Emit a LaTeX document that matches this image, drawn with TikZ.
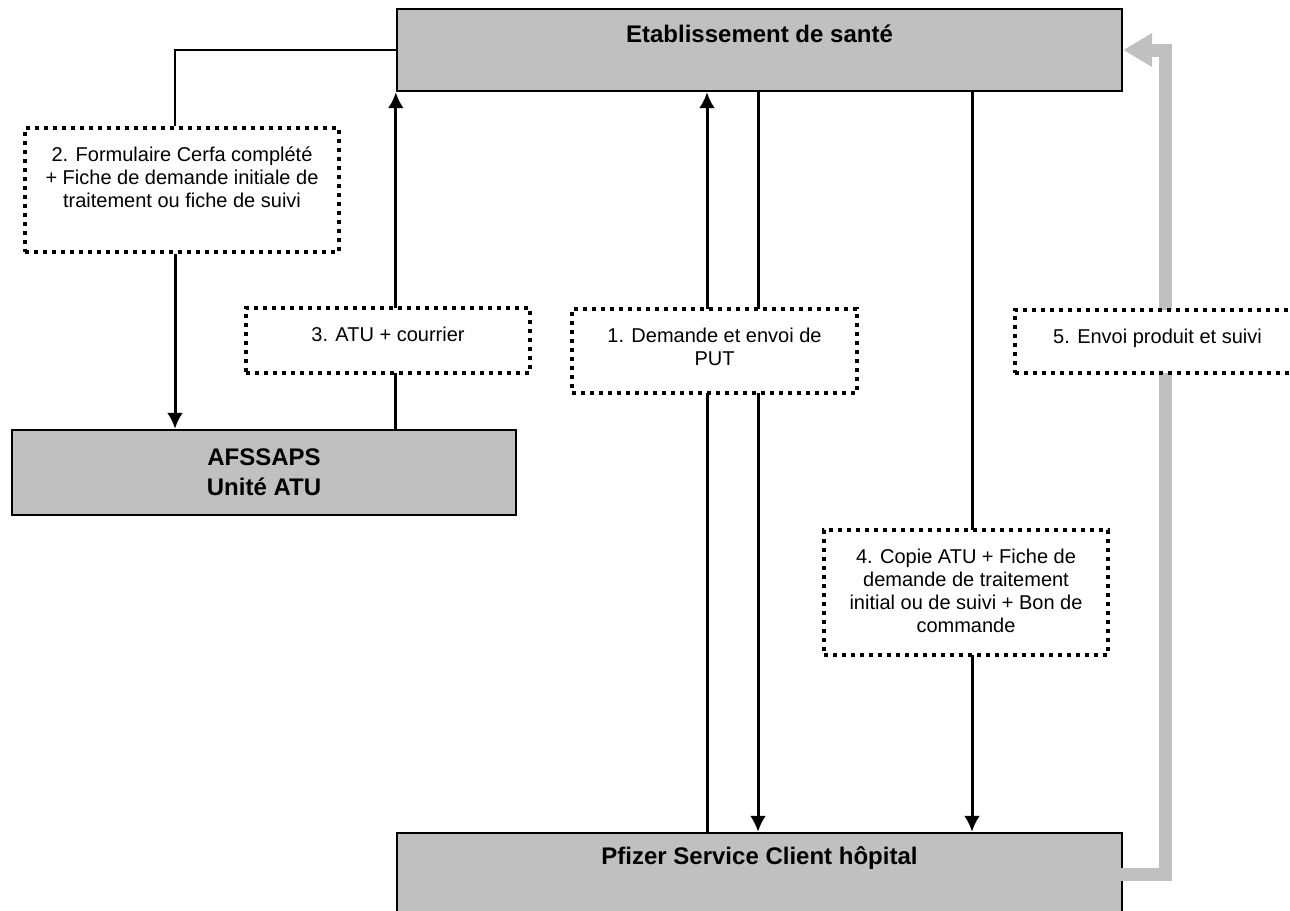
\documentclass[tikz,border=0pt]{standalone}
\usepackage{fontspec}
\setmainfont{Liberation Sans}
\usetikzlibrary{arrows.meta}

\definecolor{boxgray}{RGB}{192,192,192}

\newcommand{\boxfont}{\bfseries\fontsize{12}{15}\selectfont}
\newcommand{\notefont}{\fontsize{10}{11.5}\selectfont}

\pgfdeclarelayer{boxes}
\pgfdeclarelayer{lines}
\pgfsetlayers{boxes,lines,main}

\begin{document}
\begin{tikzpicture}[x=0.5pt, y=-0.5pt]
    \clip (0, 0) rectangle (1290, 910); % bounding box

    % organisations
    \begin{pgfonlayer}{boxes}
    \begin{scope}[every node/.style={draw, line width=1.2pt, fill=boxgray, inner sep=0pt, align=center, font=\boxfont}]
        \node at (759.5,  50)   [minimum width=362.5pt, minimum height=41pt]   (etab)    {};
        \node at (264,   472.5) [minimum width=252pt,   minimum height=42.5pt] (afssaps) {AFSSAPS\\Unité ATU};
        \node at (759.5, 874)   [minimum width=362.5pt, minimum height=41pt]   (pfizer)  {};
    \end{scope}
    \end{pgfonlayer}

    % names of the boxes
    \node at ([yshift=-13pt]etab.north)   [font=\boxfont] (etabname)   {Etablissement de santé};
    \node at ([yshift=-13pt]pfizer.north) [font=\boxfont] (pfizername) {Pfizer Service Client hôpital};

    % documents
    \begin{scope}[every node/.style={draw, fill=white, line width=2.2pt, dash pattern=on 2.2pt off 2.3pt, inner sep=0pt}]
        \node at ( 182,   190)   [minimum width=157pt,   minimum height=62pt]   (form)  {};
        \node at ( 388,   340.5) [minimum width=142pt,   minimum height=32.5pt] (atu)   {};
        \node at ( 714.5, 351)   [minimum width=142.5pt, minimum height=42pt]   (put)   {};
        \node at ( 966,   592.5) [minimum width=142pt,   minimum height=62.5pt] (copie) {};
        \node at (1157.5, 341.5) [minimum width=142.5pt, minimum height=31.5pt] (envoi) {};
    \end{scope}

    % texts of the documents
    \begin{scope}[every node/.style={anchor=north, inner sep=0pt, yshift=-10.5pt, align=center, font=\notefont}]
        \node at (form.north)  (formtext)  {2. Formulaire Cerfa complété\\+ Fiche de demande initiale de\\traitement ou fiche de suivi};
        \node at (atu.north)   (atutext)   {3. ATU + courrier};
        \node at (put.north)   (puttext)   {1. Demande et envoi de\\PUT};
        \node at (copie.north) (copietext) {4. Copie ATU + Fiche de\\demande de traitement\\initial ou de suivi + Bon de\\commande};
        \node at (envoi.north) (envoitext) {5. Envoi produit et suivi};
    \end{scope}

    % flows
    \begin{pgfonlayer}{lines}
        \draw [line width=1.3pt] (etab.west) -| (form.north -| 175, 0);

        \begin{scope}[every path/.style={line width=1.5pt, -{Latex[length=8pt, width=8pt]}}]
            \draw (form.south -| 175, 0)         -- (afssaps.north -| 175, 0);
            \draw (afssaps.north -| etab.south west) -- (etab.south west);
            \draw (pfizer.north -| 707, 0)       -- (etab.south -| 707, 0);
            \draw (etab.south -| 758, 0)         -- (pfizer.north -| 758, 0);
            \draw (etab.south -| 972, 0)         -- (pfizer.north -| 972, 0);
        \end{scope}

        % delivery
        \draw [boxgray, line width=6.5pt, -{Triangle[length=14.5pt, width=16pt]}]
            ([xshift=-1pt]pfizer.east) -- ++(22pt, 0) |- (etab.east);
    \end{pgfonlayer}
\end{tikzpicture}
\end{document}
